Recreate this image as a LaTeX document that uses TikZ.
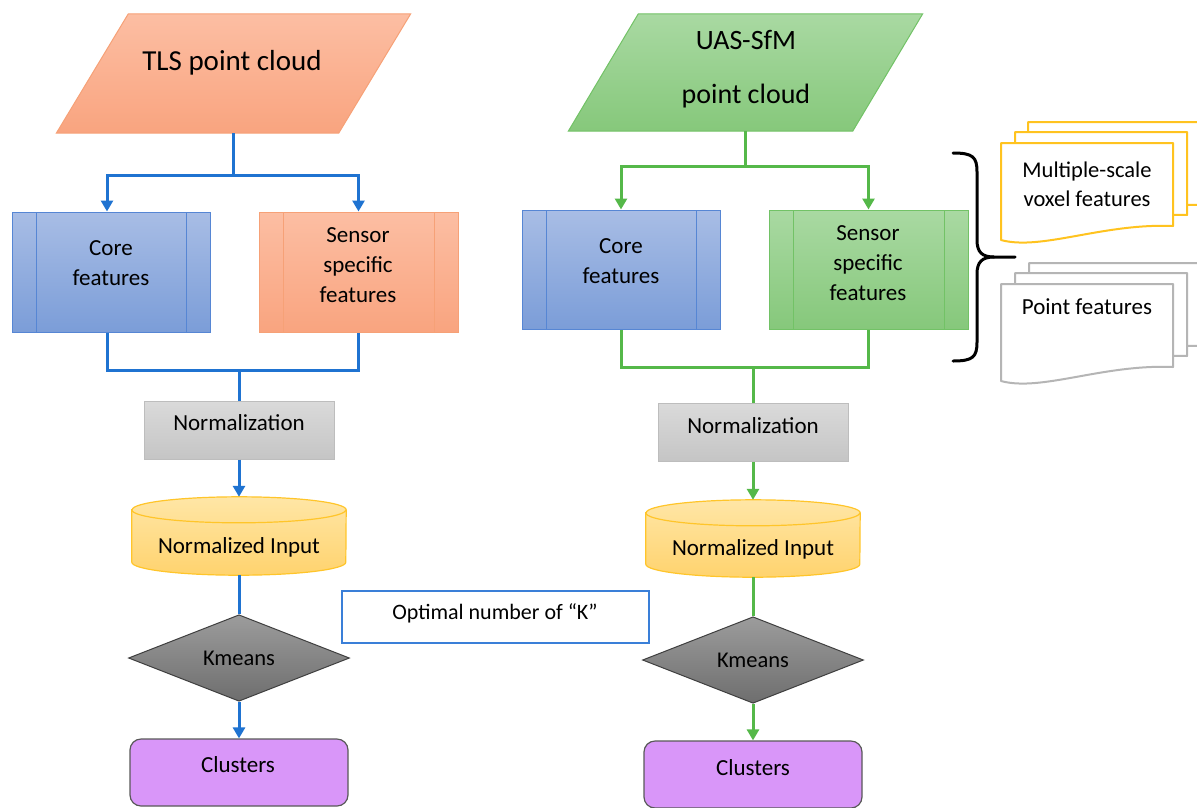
\documentclass[tikz,border=0pt]{standalone}
\usepackage{fontspec}
\setmainfont{Carlito}
\usetikzlibrary{shapes.geometric,arrows.meta,calc}
\definecolor{tlsT}{HTML}{FCBEA3}
\definecolor{tlsB}{HTML}{F9A47F}
\definecolor{tlsD}{HTML}{F6A177}
\definecolor{uasT}{HTML}{A9D9A2}
\definecolor{uasB}{HTML}{86C87B}
\definecolor{uasD}{HTML}{72C266}
\definecolor{bluT}{HTML}{A8BDE5}
\definecolor{bluB}{HTML}{7B9DD8}
\definecolor{bluD}{HTML}{5686D4}
\definecolor{graT}{HTML}{DADADA}
\definecolor{graB}{HTML}{C5C5C5}
\definecolor{graD}{HTML}{BDBDBD}
\definecolor{cylT}{HTML}{FFE6A6}
\definecolor{cylB}{HTML}{FFD36E}
\definecolor{cylD}{HTML}{FFC52A}
\definecolor{kmT}{HTML}{9C9C9C}
\definecolor{kmB}{HTML}{6E6E6E}
\definecolor{kmD}{HTML}{3F3F3F}
\definecolor{cluF}{HTML}{D996F9}
\definecolor{cluD}{HTML}{595959}
\definecolor{lineblue}{HTML}{1F73D1}
\definecolor{linegreen}{HTML}{55B849}
\definecolor{optD}{HTML}{3A7FD8}
\definecolor{docY}{HTML}{FFC31F}
\definecolor{docG}{HTML}{B5B5B5}
\newcommand\docshape[3]{%
  \filldraw[fill=white, draw=#3, line width=2pt, line join=round]
    (#1,-#2) -- (#1+172,-#2) -- (#1+172,-#2-83)
    .. controls (#1+102,-#2-80) and (#1+40,-#2-108) .. (#1,-#2-97) -- cycle;}
\begin{document}
\begin{tikzpicture}[x=1pt,y=1pt,
  txt/.style={inner sep=0pt, align=center, font=\fontsize{23}{30}\selectfont},
  arr/.style={-{Triangle[width=12pt,length=11pt]}},
  bline/.style={draw=lineblue, line width=3pt, line join=miter},
  gline/.style={draw=linegreen, line width=3pt, line join=miter},
  parabox/.style={rectangle, minimum height=119pt, minimum width=354pt, inner sep=0pt},
  proc/.style={rectangle, minimum width=198pt, minimum height=119pt, inner sep=0pt,
    line width=1pt, draw=#1,
    path picture={\draw[#1, line width=1pt]
      ([xshift=24pt]path picture bounding box.north west) --
      ([xshift=24pt]path picture bounding box.south west)
      ([xshift=-24pt]path picture bounding box.north east) --
      ([xshift=-24pt]path picture bounding box.south east);}},
  normbox/.style={rectangle, minimum width=190pt, minimum height=58pt, inner sep=0pt,
    draw=graD, line width=1pt, top color=graT, bottom color=graB},
  cylbox/.style={rectangle, minimum width=214pt, minimum height=78pt, inner sep=0pt},
  cylpath/.style={draw=cylD, line width=1.2pt, top color=cylT, bottom color=cylB},
  kmbox/.style={diamond, minimum width=221pt, minimum height=86pt, inner sep=0pt,
    draw=kmD, line width=1pt, top color=kmT, bottom color=kmB,
    font=\fontsize{22.5}{30}\selectfont},
  clubox/.style={rectangle, rounded corners=11pt, minimum width=218pt, minimum height=67pt,
    inner sep=0pt, draw=cluD, line width=1.2pt, fill=cluF},
  brace/.style={draw=black, line width=3pt, line cap=round}
]
\useasboundingbox (0,0) rectangle (1197,-807);
\clip (0,0) rectangle (1197,-807);

% ---------- input point clouds ----------
\node[parabox] (tls) at (233.5,-73.5) {};
\path[draw=tlsD, line width=1pt, top color=tlsT, bottom color=tlsB]
  (tls.south west) -- ($(tls.north west)+(72,0)$) -- (tls.north east)
  -- ($(tls.south east)+(-72,0)$) -- cycle;
\node[txt, font=\fontsize{29}{34}\selectfont] (tlsT) at (232,-63) {TLS point cloud};
\node[parabox, minimum height=117pt] (uas) at (745.5,-72.5) {};
\path[draw=uasD, line width=1pt, top color=uasT, bottom color=uasB]
  (uas.south west) -- ($(uas.north west)+(70,0)$) -- (uas.north east)
  -- ($(uas.south east)+(-70,0)$) -- cycle;
\node[txt, font=\fontsize{28}{54}\selectfont] (uasT) at (746,-69) {UAS-SfM\\point cloud};

% ---------- feature boxes ----------
\node[proc=bluD, top color=bluT, bottom color=bluB, minimum height=120pt] (coreL) at (111,-272) {};
\node[txt] (coreLT) at (111,-263) {Core\\features};
\node[proc=tlsD, top color=tlsT, bottom color=tlsB, minimum width=199pt, minimum height=120pt] (senL) at (358.5,-272) {};
\node[txt] (senLT) at (358,-265) {Sensor\\specific\\features};
\node[proc=bluD, top color=bluT, bottom color=bluB] (coreR) at (621,-269.5) {};
\node[txt] (coreRT) at (621,-261) {Core\\features};
\node[proc=uasD, top color=uasT, bottom color=uasB, minimum width=199pt] (senR) at (868.5,-269.5) {};
\node[txt] (senRT) at (868,-263) {Sensor\\specific\\features};

% ---------- normalization ----------
\node[normbox] (normL) at (239,-430) {};
\node[txt] (normLT) at (239,-423) {Normalization};
\node[normbox] (normR) at (753,-432) {};
\node[txt] (normRT) at (753,-426) {Normalization};

% ---------- cylinders ----------
\node[cylbox] (cylL) at (239,-536) {};
\path[cylpath] ($(cylL.north west)+(0,-13)$) -- ($(cylL.south west)+(0,13)$)
  arc[start angle=180, end angle=360, x radius=107pt, y radius=13pt]
  -- ($(cylL.north east)+(0,-13)$)
  arc[start angle=0, end angle=180, x radius=107pt, y radius=13pt] -- cycle;
\draw[draw=cylD, line width=1.2pt] ($(cylL.north west)+(0,-13)$)
  arc[start angle=180, end angle=360, x radius=107pt, y radius=13pt];
\node[txt] (cylLT) at (239,-547) {Normalized Input};

\node[cylbox, minimum height=77pt] (cylR) at (753,-538.5) {};
\path[cylpath] ($(cylR.north west)+(0,-13)$) -- ($(cylR.south west)+(0,13)$)
  arc[start angle=180, end angle=360, x radius=107pt, y radius=13pt]
  -- ($(cylR.north east)+(0,-13)$)
  arc[start angle=0, end angle=180, x radius=107pt, y radius=13pt] -- cycle;
\draw[draw=cylD, line width=1.2pt] ($(cylR.north west)+(0,-13)$)
  arc[start angle=180, end angle=360, x radius=107pt, y radius=13pt];
\node[txt] (cylRT) at (753,-549) {Normalized Input};

% ---------- kmeans ----------
\node[kmbox] (kmL) at (239,-658) {Kmeans};
\node[kmbox] (kmR) at (753,-660) {Kmeans};

% ---------- clusters ----------
\node[clubox] (cluL) at (239,-772.5) {};
\node[txt] (cluLT) at (238,-765) {Clusters};
\node[clubox] (cluR) at (753,-774.5) {};
\node[txt] (cluRT) at (753,-768) {Clusters};

% ---------- optimal k ----------
\node[rectangle, draw=optD, line width=2pt, fill=white, minimum width=307pt,
  minimum height=52pt, inner sep=0pt] (opt) at (495,-616.5) {};
\node[txt, font=\fontsize{22}{26}\selectfont] (optT) at (495,-613) {Optimal number of “K”};

% ---------- connectors left ----------
\draw[bline] (tls.south) -- ++(0,-42) coordinate (tlsJ);
\draw[bline, arr] (tlsJ) -| ([xshift=-4pt]coreL.north);
\draw[bline, arr] (tlsJ) -| (senL.north);
\draw[bline] ([xshift=-4pt]coreL.south) -- ++(0,-38) coordinate (mL) -| (senL.south);
\draw[bline] (normL.north |- mL) -- (normL.north);
\draw[bline, arr] (normL.south) -- (cylL.north);
\draw[bline] (cylL.south) -- (kmL.north);
\draw[bline, arr] (kmL.south) -- (cluL.north);

% ---------- connectors right ----------
\draw[gline] (uas.south) -- ++(0,-35) coordinate (uasJ);
\draw[gline, arr] (uasJ) -| (coreR.north);
\draw[gline, arr] (uasJ) -| (senR.north);
\draw[gline] (coreR.south) -- ++(0,-38) coordinate (mR) -| (senR.south);
\draw[gline] (normR.north |- mR) -- (normR.north);
\draw[gline, arr] (normR.south) -- (cylR.north);
\draw[gline] (cylR.south) -- (kmR.north);
\draw[gline, arr] (kmR.south) -- (cluR.north);

% ---------- brace ----------
\draw[brace] (953,-153) .. controls (973,-153) and (977,-157) .. (977,-172)
  -- (977,-240) .. controls (977,-252) and (982,-257) .. (994,-257) -- (1015,-257);
\draw[brace] (953,-361) .. controls (973,-361) and (977,-357) .. (977,-342)
  -- (977,-274) .. controls (977,-262) and (982,-257) .. (994,-257);

% ---------- documents ----------
\docshape{1028}{122}{docY}
\docshape{1015}{132}{docY}
\docshape{1001}{143}{docY}
\node[txt, font=\fontsize{22.5}{29}\selectfont] (voxT) at (1087,-184.5) {Multiple-scale\\voxel features};
\docshape{1029}{263}{docG}
\docshape{1015}{273}{docG}
\docshape{1001}{284}{docG}
\node[txt, font=\fontsize{23}{29}\selectfont] (ptT) at (1087,-307) {Point features};
\end{tikzpicture}
\end{document}
